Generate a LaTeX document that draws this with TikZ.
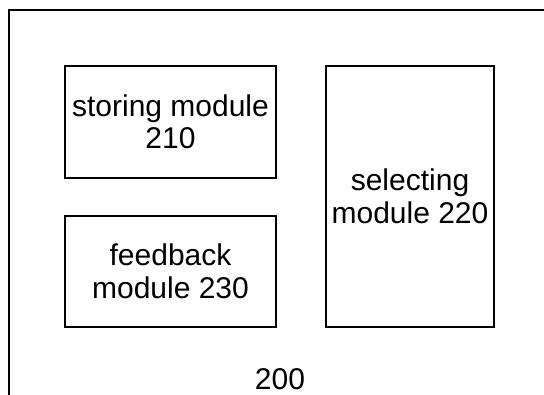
\documentclass[tikz,border=0pt]{standalone}
\usepackage{fontspec}
\setmainfont{Liberation Sans}
\begin{document}
\begin{tikzpicture}[x=1pt,y=1pt,
  module/.style={draw=black, line width=1.8pt, align=center, inner sep=0pt,
    font=\fontsize{30}{32.5}\selectfont}]
\useasboundingbox (0,0) rectangle (544,395);
\fill[white] (0,0) rectangle (544,395);
\draw[line width=1.8pt] (9,0) -- (9,385) -- (544,385);
\node[module, minimum width=211pt, minimum height=112pt] (store) at (170.5,273.2) {storing module\\210};
\node[module, minimum width=211pt, minimum height=111pt] (feed) at (170.5,123.7) {feedback\\module 230};
\node[module, minimum width=168pt, minimum height=261pt] (sel) at (410,198.7) {selecting\\module 220};
\node[font=\fontsize{30}{32}\selectfont, inner sep=0pt] (lbl) at (280,16) {200};
\end{tikzpicture}
\end{document}
